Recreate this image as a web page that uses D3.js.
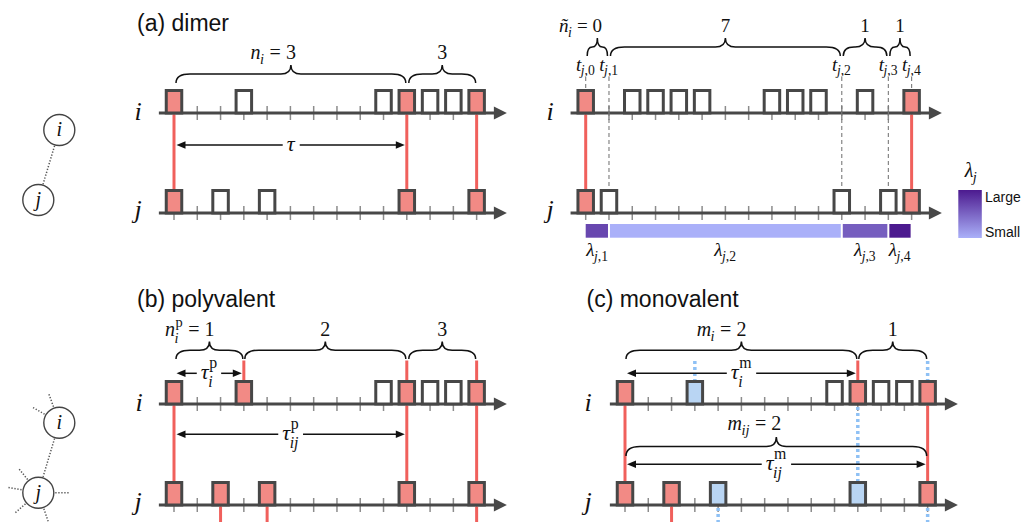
<!DOCTYPE html>
<html><head><meta charset="utf-8">
<script src="https://cdn.jsdelivr.net/npm/d3@7"></script>
<style>body{margin:0;background:#fff}svg{display:block}</style>
</head><body>
<svg id="c" width="1024" height="522"></svg>
<script>
// ---------------- data ----------------
const ticksShort = 13, ticksLong = 14;
// event lists: t = time bin, k = r (shared/red), w (white), b (blue)
const dimerI = [{t:0,k:'r'},{t:3,k:'w'},{t:9,k:'w'},{t:10,k:'r'},{t:11,k:'w'},{t:12,k:'w'},{t:13,k:'r'}];
const dimerJ = [{t:0,k:'r'},{t:2,k:'w'},{t:4,k:'w'},{t:10,k:'r'},{t:13,k:'r'}];
const dimerLinks = [0,10,13];
const rateI = [{t:0,k:'r'},{t:2,k:'w'},{t:3,k:'w'},{t:4,k:'w'},{t:5,k:'w'},{t:8,k:'w'},{t:9,k:'w'},{t:10,k:'w'},{t:12,k:'w'},{t:14,k:'r'}];
const rateJ = [{t:0,k:'r'},{t:1,k:'w'},{t:11,k:'w'},{t:13,k:'w'},{t:14,k:'r'}];
const rateLinks = [0,14];
const tj = [0,1,11,13,14];
const tjCounts = ['0','7','1','1'];
const lambdaVals = [0.7, 0.0, 0.55, 1.0];
const polyI = [{t:0,k:'r'},{t:3,k:'r'},{t:9,k:'w'},{t:10,k:'r'},{t:11,k:'w'},{t:12,k:'w'},{t:13,k:'r'}];
const polyJ = [{t:0,k:'r'},{t:2,k:'r'},{t:4,k:'r'},{t:10,k:'r'},{t:13,k:'r'}];
const polyLinks = [0,10,13], polyAbove = [3,10,13], polyBelow = [2,4,13];
const polyCounts = ['1','2','3'], polyBounds = [0,3,10,13];
const monoI = [{t:0,k:'r'},{t:3,k:'b'},{t:9,k:'w'},{t:10,k:'r'},{t:11,k:'w'},{t:12,k:'w'},{t:13,k:'r'}];
const monoJ = [{t:0,k:'r'},{t:2,k:'r'},{t:4,k:'b'},{t:10,k:'b'},{t:13,k:'r'}];
const monoRedLinks = [0,13], monoRedAbove = [10], monoRedBelow = [2];
const monoBlueLinks = [10], monoBlueAbove = [3,13], monoBlueBelow = [4,13];
const monoCounts = ['2','1'], monoBounds = [0,10,13];
const dimerCounts = ['3','3'], dimerBounds = [0,10,13];

// ---------------- style ----------------
const SERIF = 'Liberation Serif, Times New Roman, Times, serif';
const SANS = 'Liberation Sans, Arial, Helvetica, sans-serif';
const FILL = {r:'#f28a85', w:'#ffffff', b:'#b9d5f3'};
const RED = '#f0605c', BLUE = '#8fc1f5', AX = '#484848';
const svg = d3.select('#c');
svg.append('rect').attr('width',1024).attr('height',522).attr('fill','#fff');

const DT = 23.28;
const mk = x0 => d3.scaleLinear().domain([0,1]).range([x0, x0+DT]);
const xA = mk(174), xR = mk(585.7), xC = mk(625);
const lamColor = d3.scaleLinear().domain([0,1]).range(['#aab0f9','#4c1a8f']).interpolate(d3.interpolateRgb);

// ---------------- helpers ----------------
function runs(str, it){
  const out=[]; const re=/([A-Za-z\u00c0-\u024f\u0370-\u03ff]+)|([^A-Za-z\u00c0-\u024f\u0370-\u03ff]+)/g; let m;
  while((m=re.exec(str))) out.push({s:m[0], it: it && !!m[1]});
  return out;
}
function addText(g,x,y,str,size,it){
  const t=g.append('text').attr('x',x).attr('y',y).style('font-family',SERIF).attr('font-size',size).attr('fill','#111');
  runs(str,it).forEach(r=>t.append('tspan').attr('font-style',r.it?'italic':'normal').text(r.s.replace(/ /g,'\u00a0')));
  return t;
}
function rich(parent,x,y,parts,align,size){
  const g=parent.append('g'); let cx=0; const centers=[];
  parts.forEach(p=>{
    const s=p.size||size;
    const t=addText(g,cx,0,p.t,s,true);
    const w=t.node().getComputedTextLength();
    const start=cx; cx+=w; let sw=0; const ss=s*0.72;
    if(p.sup){const st=addText(g,cx+0.5,p.sub?-0.47*s:-0.42*s,p.sup,ss,false); sw=Math.max(sw,st.node().getComputedTextLength()+0.5);}
    if(p.sub){const bt=addText(g,cx-0.5,p.sup?0.36*s:0.24*s,p.sub,ss,true); sw=Math.max(sw,bt.node().getComputedTextLength()-0.5);}
    if(sw) cx+=sw+0.5;
    centers.push(start+w/2);
  });
  const off = align==='last' ? -centers[centers.length-1] : -cx/2;
  g.attr('transform',`translate(${x+off},${y})`);
  return g;
}
function row(g,x,y,tmax){
  g.append('g').selectAll('line').data(d3.range(0,tmax+1)).join('line')
    .attr('x1',d=>x(d)).attr('x2',d=>x(d)).attr('y1',y-7).attr('y2',y+7)
    .attr('stroke','#8c8c8c').attr('stroke-width',1.5);
  const tip=x(tmax+1.3);
  g.append('line').attr('x1',x(-0.65)).attr('x2',tip-10).attr('y1',y).attr('y2',y).attr('stroke',AX).attr('stroke-width',3);
  g.append('path').attr('d',`M${tip},${y}L${tip-13},${y-6.5}L${tip-13},${y+6.5}Z`).attr('fill',AX);
}
function boxes(g,x,y,ev){
  g.append('g').selectAll('rect').data(ev).join('rect')
    .attr('x',d=>x(d.t)-7.75).attr('y',y-22.5).attr('width',15.5).attr('height',22.5)
    .attr('fill',d=>FILL[d.k]).attr('stroke','#474747').attr('stroke-width',3);
}
function vlines(g,x,ts,y1,y2,kind){
  const sel=g.append('g').selectAll('line').data(ts).join('line')
    .attr('x1',d=>x(d)).attr('x2',d=>x(d)).attr('y1',y1).attr('y2',y2);
  if(kind==='red') sel.attr('stroke',RED).attr('stroke-width',3);
  else if(kind==='blue') sel.attr('stroke',BLUE).attr('stroke-width',3.5).attr('stroke-dasharray','3,3');
  else sel.attr('stroke','#7a7a7a').attr('stroke-width',1.1).attr('stroke-dasharray','4,3');
}
function bracePath(x1,x2,yb,yt){
  const xm=(x1+x2)/2, w=x2-x1, yf=yb-(yb-yt)*0.5;
  const r=Math.min(14,w/4), r2=Math.min(10,w/4);
  return `M${x1},${yb}Q${x1},${yf} ${x1+r},${yf}L${xm-r2},${yf}Q${xm},${yf} ${xm},${yt}Q${xm},${yf} ${xm+r2},${yf}L${x2-r},${yf}Q${x2},${yf} ${x2},${yb}`;
}
function brace(g,x1,x2,yb,yt,ly,parts){
  g.append('path').attr('d',bracePath(x1,x2,yb,yt)).attr('fill','none').attr('stroke','#111').attr('stroke-width',1.5);
  rich(g,(x1+x2)/2,ly,parts,'last',20);
}
function tauArrow(g,x1,x2,y,parts){
  const lab=rich(g,(x1+x2)/2,y+5.5,parts,'center',22);
  const bb=lab.node().getBBox(); const tr=lab.attr('transform').match(/translate\(([-\d.]+)/); const lx=+tr[1]+bb.x;
  const a=lx-4, b=lx+bb.width+4;
  g.append('line').attr('x1',x1+6).attr('x2',a).attr('y1',y).attr('y2',y).attr('stroke','#111').attr('stroke-width',1.5);
  g.append('line').attr('x1',b).attr('x2',x2-6).attr('y1',y).attr('y2',y).attr('stroke','#111').attr('stroke-width',1.5);
  g.append('path').attr('d',`M${x1},${y}L${x1+9},${y-3.8}L${x1+9},${y+3.8}Z`).attr('fill','#111');
  g.append('path').attr('d',`M${x2},${y}L${x2-9},${y-3.8}L${x2-9},${y+3.8}Z`).attr('fill','#111');
}
function axisLabel(g,x,y,s){
  g.append('text').attr('x',x).attr('y',y).attr('text-anchor','middle').style('font-family',SERIF)
    .attr('font-style','italic').attr('font-size',26).attr('fill','#111').text(s);
}
function title(x,y,s){
  svg.append('text').attr('x',x).attr('y',y).style('font-family',SANS).attr('font-size',23).attr('fill','#111').text(s);
}
function node(g,cx,cy,lab){
  g.append('circle').attr('cx',cx).attr('cy',cy).attr('r',15.5).attr('fill','#fff').attr('stroke','#444').attr('stroke-width',1.4);
  g.append('text').attr('x',cx).attr('y',cy+6).attr('text-anchor','middle').style('font-family',SERIF)
    .attr('font-style','italic').attr('font-size',20).attr('fill','#111').text(lab);
}
function dotted(g,x1,y1,x2,y2){
  g.append('line').attr('x1',x1).attr('y1',y1).attr('x2',x2).attr('y2',y2).attr('stroke','#555').attr('stroke-width',1.5).attr('stroke-dasharray','1.3,1.7');
}
function network(pi,pj,spI,spJ){
  const g=svg.append('g');
  const dx=pj[0]-pi[0], dy=pj[1]-pi[1], L=Math.hypot(dx,dy), ux=dx/L, uy=dy/L;
  dotted(g,pi[0]+ux*16.5,pi[1]+uy*16.5,pj[0]-ux*16.5,pj[1]-uy*16.5);
  [[pi,spI],[pj,spJ]].forEach(([p,sp])=>sp.forEach(a=>{
    const r=a*Math.PI/180; dotted(g,p[0]+Math.cos(r)*17,p[1]+Math.sin(r)*17,p[0]+Math.cos(r)*32,p[1]+Math.sin(r)*32);
  }));
  node(g,pi[0],pi[1],'i'); node(g,pj[0],pj[1],'j');
}

// ---------------- titles ----------------
title(137,31,'(a) dimer');
title(137,307,'(b) polyvalent');
title(586.5,307,'(c) monovalent');

// ---------------- networks ----------------
network([59.3,130],[38.3,200],[],[]);
network([59.3,422.7],[38.3,492.7],[-110,-150],[-129,-170,0,139,71]);

// ---------------- panel (a) left ----------------
{
  const g=svg.append('g'), x=xA, iY=113, jY=213;
  row(g,x,iY,ticksShort); row(g,x,jY,ticksShort);
  vlines(g,x,dimerLinks,iY+1.5,jY-24,'red');
  boxes(g,x,iY,dimerI); boxes(g,x,jY,dimerJ);
  axisLabel(g,138,iY+7,'i'); axisLabel(g,138,jY+5,'j');
  brace(g,x(dimerBounds[0])+2,x(dimerBounds[1])-1,83,65,59,[{t:'n',sub:'i'},{t:' = '},{t:dimerCounts[0]}]);
  brace(g,x(dimerBounds[1])+2,x(dimerBounds[2])-1,83,65,59,[{t:dimerCounts[1]}]);
  tauArrow(g,x(0)+2.5,x(10)-2,145,[{t:'τ'}]);
}

// ---------------- panel (a) right ----------------
{
  const g=svg.append('g'), x=xR, iY=113, jY=213;
  row(g,x,iY,ticksLong); row(g,x,jY,ticksLong);
  vlines(g,x,rateLinks,iY+1.5,jY-24,'red');
  vlines(g,x,tj.filter(t=>rateLinks.includes(t)),77,iY-24,'gray');
  vlines(g,x,tj.filter(t=>!rateLinks.includes(t)),77,jY-24,'gray');
  boxes(g,x,iY,rateI); boxes(g,x,jY,rateJ);
  axisLabel(g,550,iY+7,'i'); axisLabel(g,550,jY+5,'j');
  tj.forEach((t,k)=>rich(g,x(t),70.7,[{t:'t',sub:'j,'+k}],'center',19));
  for(let k=0;k<tj.length-1;k++){
    const parts = k===0 ? [{t:'ñ',sub:'i'},{t:' = '},{t:tjCounts[k]}] : [{t:tjCounts[k]}];
    const gg=g.append('g');
    gg.append('path').attr('d',bracePath(x(tj[k])+1.5,x(tj[k+1])-1.5,56,38)).attr('fill','none').attr('stroke','#111').attr('stroke-width',1.5);
    rich(gg,(x(tj[k])+x(tj[k+1]))/2,32,parts,'last',19);
  }
  // lambda bar
  for(let k=0;k<tj.length-1;k++){
    const a=x(tj[k])+(k===0?0:1), b=x(tj[k+1])-1;
    g.append('rect').attr('x',a).attr('y',224).attr('width',b-a).attr('height',13.7).attr('fill',lamColor(lambdaVals[k]));
    rich(g,(x(tj[k])+x(tj[k+1]))/2,256,[{t:'λ',sub:'j,'+(k+1)}],'center',19);
  }
  // legend
  const defs=svg.append('defs');
  const gr=defs.append('linearGradient').attr('id','lg').attr('x1',0).attr('y1',0).attr('x2',0).attr('y2',1);
  gr.append('stop').attr('offset','0%').attr('stop-color',lamColor(1));
  gr.append('stop').attr('offset','100%').attr('stop-color',lamColor(0));
  g.append('rect').attr('x',958.3).attr('y',190).attr('width',23.5).attr('height',48).attr('fill','url(#lg)');
  g.append('text').attr('x',985).attr('y',202).style('font-family',SANS).attr('font-size',14).attr('fill','#111').text('Large');
  g.append('text').attr('x',985).attr('y',237).style('font-family',SANS).attr('font-size',14).attr('fill','#111').text('Small');
  rich(g,971,177,[{t:'λ',sub:'j'}],'center',20);
}

// ---------------- panel (b) ----------------
{
  const g=svg.append('g'), x=xA, iY=404, jY=505;
  row(g,x,iY,ticksShort); row(g,x,jY,ticksShort);
  vlines(g,x,polyLinks,iY+1.5,jY-24,'red');
  vlines(g,x,polyAbove,360.5,iY-24,'red');
  vlines(g,x,polyBelow,jY+1.5,522,'red');
  boxes(g,x,iY,polyI); boxes(g,x,jY,polyJ);
  axisLabel(g,139,iY+7,'i'); axisLabel(g,138,jY+5,'j');
  brace(g,x(polyBounds[0])+2,x(polyBounds[1])-1,359,341.5,336,[{t:'n',sub:'i',sup:'p'},{t:' = '},{t:polyCounts[0]}]);
  brace(g,x(polyBounds[1])+1,x(polyBounds[2])-1,359,341.5,336,[{t:polyCounts[1]}]);
  brace(g,x(polyBounds[2])+2,x(polyBounds[3])-1,359,341.5,336,[{t:polyCounts[2]}]);
  tauArrow(g,x(0)+2.5,x(3)-2,373.3,[{t:'τ',sub:'i',sup:'p'}]);
  tauArrow(g,x(0)+2.5,x(10)-2,434.3,[{t:'τ',sub:'ij',sup:'p'}]);
}

// ---------------- panel (c) ----------------
{
  const g=svg.append('g'), x=xC, iY=404, jY=505;
  row(g,x,iY,ticksShort); row(g,x,jY,ticksShort);
  vlines(g,x,monoRedLinks,iY+1.5,jY-24,'red');
  vlines(g,x,monoRedAbove,360.5,iY-24,'red');
  vlines(g,x,monoRedBelow,jY+1.5,522,'red');
  vlines(g,x,monoBlueLinks,iY+3,jY-24,'blue');
  vlines(g,x,monoBlueAbove,361,iY-24,'blue');
  vlines(g,x,monoBlueBelow,jY+3,522,'blue');
  boxes(g,x,iY,monoI); boxes(g,x,jY,monoJ);
  axisLabel(g,588,iY+7,'i'); axisLabel(g,588,jY+5,'j');
  brace(g,x(monoBounds[0])+1,x(monoBounds[1])-1,359,341.5,336,[{t:'m',sub:'i'},{t:' = '},{t:monoCounts[0]}]);
  brace(g,x(monoBounds[1])+1,x(monoBounds[2])-1,359,341.5,336,[{t:monoCounts[1]}]);
  brace(g,x(0)+1,x(13)-1,456,437,430,[{t:'m',sub:'ij'},{t:' = '},{t:'2'}]);
  tauArrow(g,x(0)+2,x(10)-2,373.3,[{t:'τ',sub:'i',sup:'m'}]);
  tauArrow(g,x(0)+2,x(13)-2,464.3,[{t:'τ',sub:'ij',sup:'m'}]);
}
</script>
</body></html>
